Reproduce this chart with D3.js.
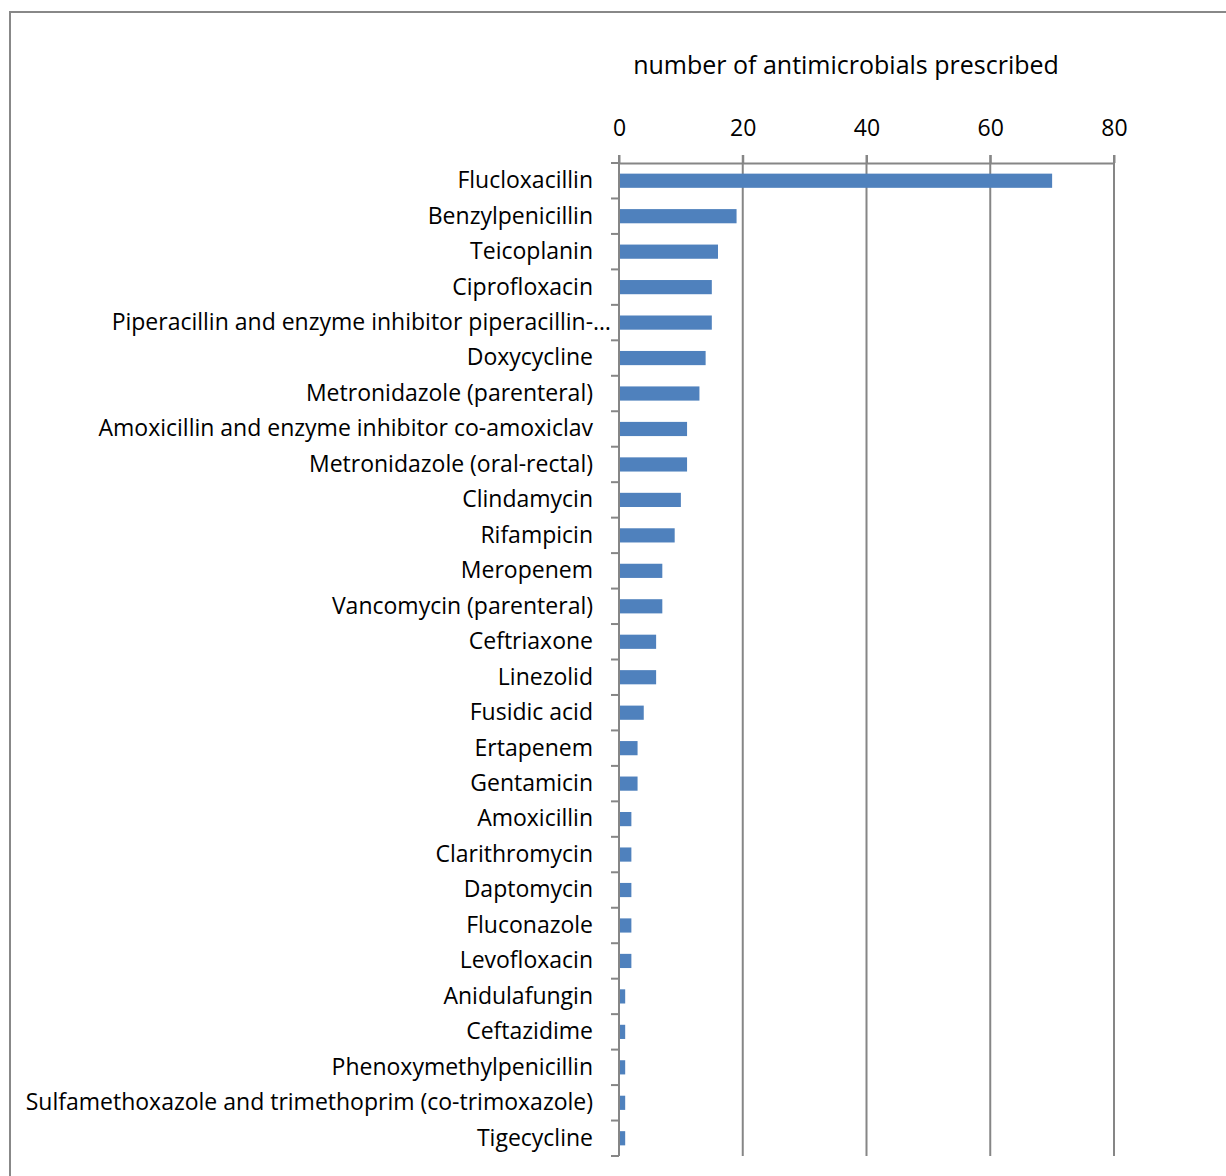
<!DOCTYPE html>
<html>
<head>
<meta charset="utf-8">
<script src="https://cdn.jsdelivr.net/npm/d3@7"></script>
<style>
  html, body { margin: 0; padding: 0; background: #fff; }
  svg { display: block; }
  text { font-family: "Open Sans", Lato, sans-serif; fill: #000; }
</style>
</head>
<body>
<svg id="chart" width="1226" height="1176"></svg>
<script>
// Antimicrobials prescribed, by drug
const drugs = [
  "Flucloxacillin",
  "Benzylpenicillin",
  "Teicoplanin",
  "Ciprofloxacin",
  "Piperacillin and enzyme inhibitor piperacillin-\u2026",
  "Doxycycline",
  "Metronidazole (parenteral)",
  "Amoxicillin and enzyme inhibitor co-amoxiclav",
  "Metronidazole (oral-rectal)",
  "Clindamycin",
  "Rifampicin",
  "Meropenem",
  "Vancomycin (parenteral)",
  "Ceftriaxone",
  "Linezolid",
  "Fusidic acid",
  "Ertapenem",
  "Gentamicin",
  "Amoxicillin",
  "Clarithromycin",
  "Daptomycin",
  "Fluconazole",
  "Levofloxacin",
  "Anidulafungin",
  "Ceftazidime",
  "Phenoxymethylpenicillin",
  "Sulfamethoxazole and trimethoprim (co-trimoxazole)",
  "Tigecycline"
];
const counts = [70, 19, 16, 15, 15, 14, 13, 11, 11, 10, 9, 7, 7, 6, 6, 4, 3, 3, 2, 2, 2, 2, 2, 1, 1, 1, 1, 1];
const xTicks = [0, 20, 40, 60, 80];
const xTitle = "number of antimicrobials prescribed";

const svg = d3.select("#chart");
const plotLeft = 619, plotRight = 1114, plotTop = 163, plotBottom = 1156;
const gridColor = "#868686";
const fontStack = "'Open Sans', Lato, sans-serif";

// outer frame
svg.append("rect")
  .attr("x", 10).attr("y", 12)
  .attr("width", 1240).attr("height", 1200)
  .attr("fill", "none").attr("stroke", "#888").attr("stroke-width", 2);

const x = d3.scaleLinear().domain([0, 80]).range([plotLeft, plotRight]);
const y = d3.scaleBand().domain(drugs).range([plotTop, plotBottom])
  .paddingInner(0.6).paddingOuter(0.3);

// vertical gridlines
svg.append("g").selectAll("line").data(xTicks).join("line")
  .attr("x1", d => x(d)).attr("x2", d => x(d))
  .attr("y1", plotTop - 8).attr("y2", plotBottom)
  .attr("stroke", gridColor).attr("stroke-width", 2);

// top axis
const xAxis = svg.append("g").attr("transform", `translate(0,${plotTop})`)
  .call(d3.axisTop(x).tickValues(xTicks).tickSizeInner(8).tickSizeOuter(0).tickPadding(19));
xAxis.select(".domain").attr("stroke", gridColor).attr("stroke-width", 2);
xAxis.selectAll(".tick line").attr("stroke", gridColor).attr("stroke-width", 2);
xAxis.selectAll(".tick text").style("font-size", "23px").style("font-family", fontStack).attr("fill", "#000");

// left axis: labels only, ticks drawn at band boundaries
const yAxis = svg.append("g").attr("transform", `translate(${plotLeft},0)`)
  .call(d3.axisLeft(y).tickSize(0).tickPadding(26));
yAxis.select(".domain").remove();
yAxis.selectAll(".tick text").style("font-size", "23px").style("font-family", fontStack).attr("fill", "#000");
yAxis.selectAll(".tick").filter(d => d.endsWith("\u2026")).select("text").attr("x", -8);

const step = y.step();
const bounds = d3.range(drugs.length + 1).map(i => plotTop + i * step);
svg.append("g").selectAll("line").data(bounds).join("line")
  .attr("x1", plotLeft - 8).attr("x2", plotLeft)
  .attr("y1", d => d).attr("y2", d => d)
  .attr("stroke", gridColor).attr("stroke-width", 2);

// bars
svg.append("g").selectAll("rect").data(drugs).join("rect")
  .attr("x", x(0) + 1)
  .attr("y", d => y(d))
  .attr("width", (d, i) => x(counts[i]) - x(0) - 1)
  .attr("height", y.bandwidth())
  .attr("fill", "#4F81BD");

// axis title
svg.append("text")
  .attr("x", 846).attr("y", 74)
  .attr("text-anchor", "middle")
  .style("font-size", "25px")
  .text(xTitle);
</script>
</body>
</html>
